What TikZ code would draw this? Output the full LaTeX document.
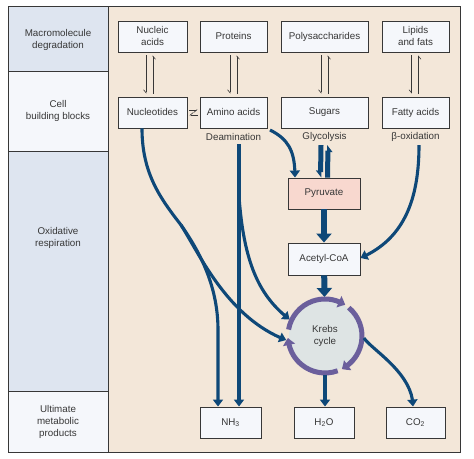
\documentclass[tikz,border=0pt]{standalone}
\usepackage{fontspec}
\setmainfont{Liberation Sans}
\usetikzlibrary{arrows.meta,bending}
\definecolor{parchment}{RGB}{243, 231, 217}
\definecolor{paleblue}{RGB}{222, 229, 240}
\definecolor{paperwhite}{RGB}{245, 247, 251}
\definecolor{salmonpink}{RGB}{248, 216, 207}
\definecolor{cyclegray}{RGB}{222, 228, 228}
\definecolor{cyclepurple}{RGB}{107, 95, 156}
\definecolor{flowblue}{RGB}{14, 72, 120}
\definecolor{inkgray}{RGB}{55, 55, 55}

\begin{document}
\begin{tikzpicture}[x=1pt, y=1pt,
    every node/.style={font=\fontsize{9.8}{12}\selectfont, text=inkgray, align=center},
    box/.style={draw=inkgray, line width=0.9pt, fill=paperwhite, minimum height=31pt, inner sep=1pt},
    swap/.style={draw=inkgray, line width=0.6pt, -{Straight Barb[right, length=3pt, width=5pt]}},
    flow/.style={draw=flowblue, line width=3.1pt, -{Triangle[length=7pt, width=10pt]}},
    bigflow/.style={draw=flowblue, line width=6pt, -{Triangle[length=9pt, width=15pt]}},
    fatswap/.style={draw=flowblue, line width=5pt, -{Triangle[right, length=6pt, width=9pt]}},
    ring/.style={draw=cyclepurple, line width=5pt, -{Triangle[bend, length=7pt, width=12pt]}}]
            \useasboundingbox (0,0) rectangle (474,458);
            % Panels
            \fill[parchment]  (108,  6) rectangle (460,451);
            \fill[paleblue]   (  8,386) rectangle (108,451);
            \fill[paperwhite] (  8,306) rectangle (108,386);
            \fill[paleblue]   (  8, 66) rectangle (108,306);
            \fill[paperwhite] (  8,  6) rectangle (108, 66);
            \draw[inkgray, line width=1pt] (8,6) rectangle (460,451);
            \draw[inkgray, line width=1pt] (108,6) -- (108,451);
            \draw[inkgray, line width=1pt] (8,386) -- (108,386) (8,306) -- (108,306) (8,66) -- (108,66);
            % Row labels
            \node (lbmacro) at (58,418) {Macromolecule\\degradation};
            \node (lbcell)  at (58,347) {Cell\\building blocks};
            \node (lboxid)  at (58,220) {Oxidative\\respiration};
            \node (lbfinal) at (58, 36) {Ultimate\\metabolic\\products};
            % Macromolecules and building blocks
            \node[box, minimum width=69pt] (nucacid) at (152.5,421.5) {Nucleic\\acids};
            \node[box, minimum width=67pt] (protein) at (233.5,421.5) {Proteins};
            \node[box, minimum width=87pt] (polysac) at (324.5,421.5) {Polysaccharides};
            \node[box, minimum width=67pt] (lipid)   at (415.5,421.5) {Lipids\\and fats};
            \node[box, minimum width=69pt] (nucleo)  at (152.5,345.5) {Nucleotides};
            \node[box, minimum width=67pt] (amino)   at (233.5,345.5) {Amino acids};
            \node[box, minimum width=87pt] (sugar)   at (324.5,345.5) {Sugars};
            \node[box, minimum width=67pt] (fatty)   at (415.5,345.5) {Fatty acids};
            \node (deamin) at (233.5,321) {Deamination};
            \node (glyco)  at (324.5,321) {Glycolysis};
            \node (betaox) at (415.5,321) {β-oxidation};
            % Oxidative respiration
            \node[box, fill=salmonpink, minimum width=72pt] (pyruv) at (324,264.5) {Pyruvate};
            \node[box, minimum width=72pt, minimum height=32pt] (acoa) at (324,199) {Acetyl-CoA};
            \node[circle, fill=cyclegray, minimum size=72pt, inner sep=0pt, outer sep=3pt] (krebs) at (325,122) {Krebs\\cycle};
            % Products
            \node[box, minimum width=61pt] (nh3)   at (230.5,35.5) {NH\textsubscript{3}};
            \node[box, minimum width=60pt] (water) at (324,35.5)   {H\textsubscript{2}O};
            \node[box, minimum width=59pt] (co2)   at (415.5,35.5) {CO\textsubscript{2}};
            % Breakdown and synthesis
            \foreach \upper/\lower/\dx in {nucacid/nucleo/-3, protein/amino/0, polysac/sugar/0, lipid/fatty/-0.5} {
                \draw[swap] ([xshift=\dx pt-3.5pt, yshift=-3pt]\upper.south) -- ([xshift=\dx pt-3.5pt, yshift=3pt]\lower.north);
                \draw[swap] ([xshift=\dx pt+3.5pt, yshift=3pt]\lower.north) -- ([xshift=\dx pt+3.5pt, yshift=-3pt]\upper.south);
            }
            \draw[swap] ([xshift=2pt, yshift=2.5pt]nucleo.east) -- ([xshift=-2pt, yshift=2.5pt]amino.west);
            \draw[swap] ([xshift=-2pt, yshift=-2.5pt]amino.west) -- ([xshift=2pt, yshift=-2.5pt]nucleo.east);
            % Nucleotides
            \coordinate (fork) at (181,233);
            \draw[flow, -] ([xshift=-10.5pt]nucleo.south) .. controls (142,285) and (160,260) .. (fork);
            \draw[flow] (fork) .. controls (197,210) and (218,175) .. (218,128) -- ([xshift=-12.5pt]nh3.north);
            \draw[flow] (fork) .. controls (200,203) and (228,140) .. (krebs.186);
            % Amino acids
            \draw[flow] ([xshift=5.5pt]deamin.south) -- ([xshift=5.5pt]deamin.south |- nh3.north);
            \coordinate (branch) at (239,262);
            \draw[flow] (branch) .. controls (244,190) and (262,160) .. (krebs.155);
            \draw[flow] (270,328) .. controls (290,318) and (295,305) .. ([xshift=-29pt]pyruv.north);
            % Sugars
            \draw[fatswap] ([xshift=-3.5pt]glyco.south) -- ([xshift=-3.5pt]pyruv.north);
            \draw[fatswap] ([xshift=3.5pt]pyruv.north) -- ([xshift=3.5pt]glyco.south);
            % Fatty acids
            \draw[flow] ([xshift=3.5pt]betaox.south) .. controls (419,255) and (402,218) .. ([yshift=1pt]acoa.east);
            % Central pathway
            \draw[bigflow] (pyruv) -- (acoa);
            \draw[bigflow] (acoa) -- (krebs);
            \draw[ring] ([shift={(170:37)}]krebs.center) arc[start angle=170, end angle=57, radius=37];
            \draw[ring] ([shift={(50:37)}]krebs.center) arc[start angle=50, end angle=-63, radius=37];
            \draw[ring] ([shift={(-70:37)}]krebs.center) arc[start angle=-70, end angle=-177, radius=37];
            % Krebs products
            \draw[flow] (krebs.south) -- (krebs.south |- water.north);
            \draw[flow] (krebs.-3) .. controls (372,108) and (413,85) .. ([xshift=-2.5pt]co2.north);
\end{tikzpicture}
\end{document}
